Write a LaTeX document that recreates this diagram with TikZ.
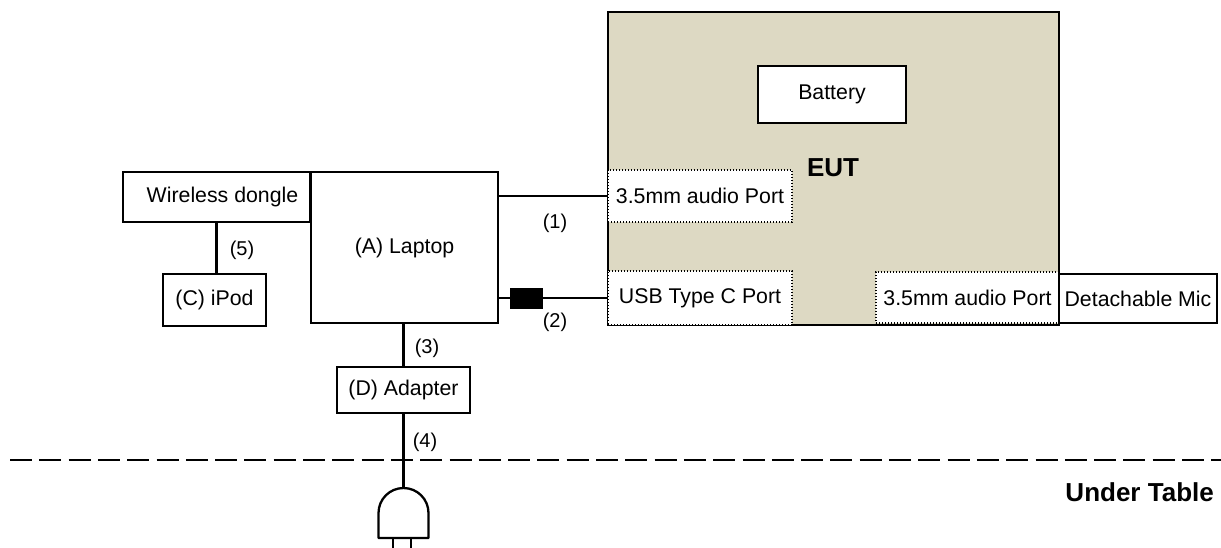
\documentclass[tikz,border=0pt]{standalone}
\usepackage{fontspec}
\setmainfont{Liberation Sans}
\definecolor{euttan}{RGB}{221,217,195}
\begin{document}
\begin{tikzpicture}[x=1pt,y=-1pt,
  every node/.style={font=\fontsize{21.3}{25}\selectfont, inner sep=0pt},
  box/.style={draw, line width=2.3pt, fill=white},
  port/.style={draw, line width=1.4pt, dash pattern=on 1.4pt off 1.6pt, fill=white},
  wire/.style={line width=2.3pt},
  lbl/.style={font=\fontsize{20}{24}\selectfont},
  bigbold/.style={font=\fontsize{26}{30}\selectfont\bfseries}]
\useasboundingbox (0,0) rectangle (1221,547);
% EUT
\node[draw, line width=2.3pt, fill=euttan, minimum width=451pt, minimum height=313pt] (eut) at (833.5,168.5) {};
\node[box, minimum width=148pt, minimum height=57pt] (bat) at (832,94.5) {Battery};
\node[bigbold] (eutlbl) at (833,168) {EUT};
\node[port, minimum width=184pt, minimum height=52pt] (port1) at (700,196) {3.5mm audio Port};
\node[port, minimum width=184pt, minimum height=54pt] (usb) at (700,298) {USB Type C Port};
\node[port, minimum width=183pt, minimum height=51pt] (port2) at (967.5,297.5) {3.5mm audio Port};
\node[box, minimum width=158pt, minimum height=49pt] (mic) at (1138,298.5) {Detachable Mic};
% Laptop side
\node[box, minimum width=187pt, minimum height=151pt] (laptop) at (404.5,247.5) {(A) Laptop};
\node[box, minimum width=187pt, minimum height=50pt] (dongle) at (216.5,197) {\hspace{12pt}Wireless dongle};
\node[box, minimum width=103pt, minimum height=52pt] (ipod) at (214.5,300) {(C) iPod};
\node[box, minimum width=133pt, minimum height=46pt] (adapter) at (403.5,390) {(D) Adapter};
% connectors
\draw[wire] (laptop.east |- port1.west) -- (port1.west);
\draw[wire] (laptop.east |- usb.west) -- (usb.west);
\node[draw, fill=black, minimum width=32pt, minimum height=20pt] (ferrite) at (526,298) {};
\draw[wire] (adapter.north |- laptop.south) -- (adapter.north);
\draw[wire] (dongle.south) -- (dongle.south |- ipod.north);
\coordinate (plugtop) at (403.5,488);
\draw[wire] (adapter.south) -- (plugtop);
\node[lbl] (l1) at (555,223) {(1)};
\node[lbl] (l2) at (555,322) {(2)};
\node[lbl] (l3) at (427,348) {(3)};
\node[lbl] (l4) at (425,442) {(4)};
\node[lbl] (l5) at (242,250) {(5)};
% table line
\draw[line width=2.2pt, dash pattern=on 22pt off 7.3pt] (10,460) -- (1221,460);
\node[bigbold, anchor=east] (under) at (1214,492) {Under Table};
% plug
\draw[line width=2.3pt, line join=round] (378.5,538) -- (378.5,513) arc[start angle=180, end angle=0, radius=25pt] -- (428.5,538) -- cycle;
\draw[line width=2.3pt] (393,538) -- (393,550);
\draw[line width=2.3pt] (411,538) -- (411,550);
\end{tikzpicture}
\end{document}
